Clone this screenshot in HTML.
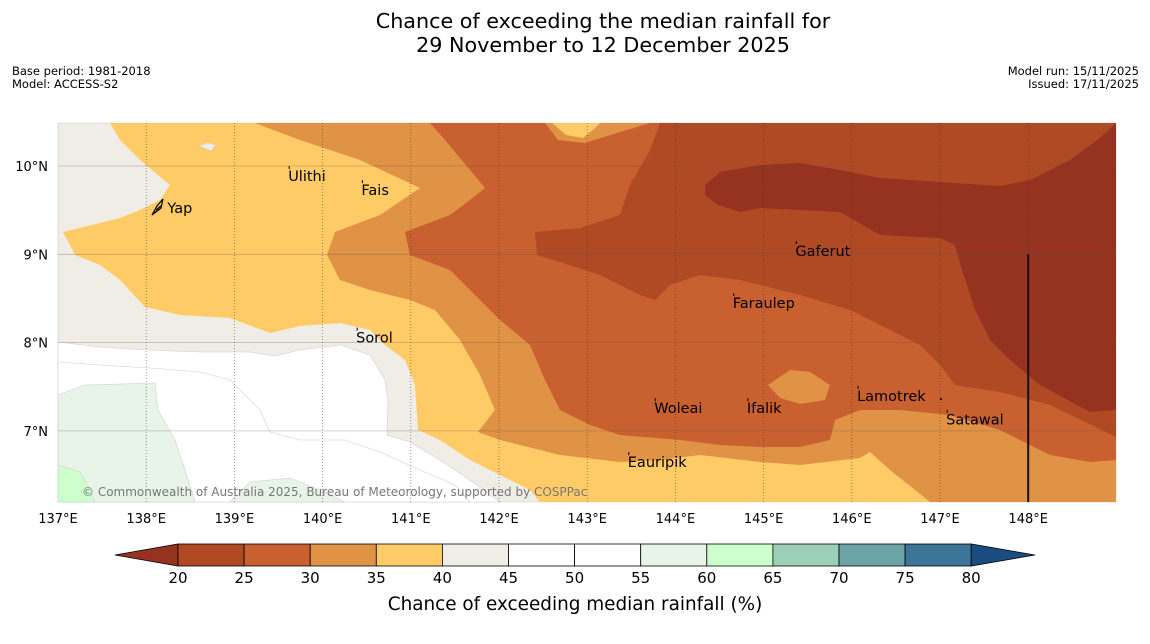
<!DOCTYPE html>
<html><head><meta charset="utf-8">
<style>
body{margin:0;background:#fff;font-family:"Liberation Sans","DejaVu Sans",sans-serif;}
#wrap{position:relative;width:1150px;height:644px;overflow:hidden;background:#fff}
.t{position:absolute;white-space:nowrap}
</style></head><body>
<div id="wrap">
<div class="t" style="left:0;width:1206px;top:9px;text-align:center;font-size:20.7px;line-height:24px;font-family:'DejaVu Sans',sans-serif">Chance of exceeding the median rainfall for<br>29 November to 12 December 2025</div>
<div class="t" style="left:12px;top:65px;font-size:11.5px;line-height:13px;font-family:'DejaVu Sans',sans-serif">Base period: 1981-2018<br>Model: ACCESS-S2</div>
<div class="t" style="right:11px;top:65px;font-size:11.5px;line-height:13px;text-align:right;font-family:'DejaVu Sans',sans-serif">Model run: 15/11/2025<br>Issued: 17/11/2025</div>
<svg id="map" width="1150" height="644" style="position:absolute;left:0;top:0" font-family="DejaVu Sans, sans-serif"></svg>
</div>
<script>
const NS="http://www.w3.org/2000/svg";
const svg=document.getElementById('map');
const lonTicks=[137,138,139,140,141,142,143,144,145,146,147,148];
const latTicks=[10,9,8,7];
const levels=[20,25,30,35,40,45,50,55,60,65,70,75,80];
const levelColors=['#963220','#b04a25','#c96030','#e09245','#ffcb66','#f0ece6','#ffffff','#ffffff','#e8f4e8','#ccffcc','#9bcfb8','#6ba3a6','#3d7598','#1a4c80'];
function X(lon){return 58+(lon-137)*88.2;}
function Y(lat){return 166+(10-lat)*88.3;}
function el(tag,attrs,parent){const e=document.createElementNS(NS,tag);for(const k in attrs)e.setAttribute(k,attrs[k]);(parent||svg).appendChild(e);return e;}
const regGray=[[58,123],[1116,123],[1116,502],[58,502]];
const regWhite=[[58,342],[100,347],[145,350],[200,352],[250,352],[275,356],[300,350],[340,345],[370,355],[385,380],[388,400],[387,435],[410,442],[440,460],[470,480],[500,502],[58,502]];
const regGreen=[[58,395],[85,385],[155,383],[158,410],[175,440],[185,470],[195,502],[58,502]];
const regGreen2=[[230,502],[250,482],[290,478],[320,490],[345,502]];
const regLime=[[58,465],[80,472],[90,490],[95,502],[58,502]];
const regYellow=[[110,123],[120,140],[140,160],[170,185],[160,200],[140,210],[120,218],[63,232],[75,255],[100,265],[120,280],[145,307],[180,315],[230,318],[270,333],[300,326],[340,323],[370,330],[385,345],[405,360],[415,385],[418,430],[440,440],[470,460],[490,470],[530,490],[540,502],[1116,502],[1116,123]];
const regGrayDot=[[199,146],[207,143],[216,145],[211,151]];
const regOrange=[[255,123],[300,140],[360,160],[420,188],[380,215],[335,232],[327,255],[340,280],[370,290],[410,300],[435,310],[460,340],[480,375],[495,410],[478,432],[500,440],[560,455],[620,462],[660,460],[700,455],[760,462],[800,465],[860,458],[870,452],[890,470],[915,490],[930,502],[1116,502],[1116,123]];
const regRed=[[430,123],[445,140],[485,188],[470,200],[450,215],[405,232],[410,255],[450,270],[470,290],[500,320],[530,345],[545,380],[560,410],[590,425],[620,435],[680,440],[720,445],[760,447],[800,447],[830,440],[835,420],[860,410],[900,410],[950,415],[1000,430],[1050,455],[1090,462],[1116,460],[1116,123]];
const regOrangeTop=[[545,123],[558,140],[585,143],[620,132],[650,123]];
const regYellowTop=[[552,123],[566,135],[583,138],[594,129],[600,123]];
const regOrangeIfalik=[[768,385],[790,370],[810,372],[830,385],[825,400],[800,404],[780,398]];
const regDark=[[660,123],[650,150],[630,185],[620,215],[580,228],[535,232],[537,255],[560,262],[600,275],[640,295],[655,300],[670,285],[700,275],[740,280],[800,295],[850,310],[890,330],[920,345],[940,365],[955,385],[1000,392],[1050,405],[1116,437],[1116,123]];
const regDarkest=[[705,185],[720,172],[760,165],[800,163],[840,170],[880,178],[940,182],[1000,186],[1030,180],[1070,160],[1100,138],[1116,123],[1116,410],[1090,412],[1040,385],[1010,360],[990,340],[975,310],[962,270],[955,245],[940,238],[880,235],[840,212],[800,210],[760,208],[740,212],[718,205],[705,195]];
const layers=[[regGray,5],[regWhite,6],[regGreen,8],[regGreen2,8],[regLime,9],[regYellow,4],[regGrayDot,5],[regOrange,3],[regRed,2],[regOrangeTop,3],[regYellowTop,4],[regOrangeIfalik,3],[regDark,1],[regDarkest,0]];
const g=el('g',{});


layers.forEach(([pts,ci])=>{
 const p=el('polygon',{points:pts.map(a=>a.join(',')).join(' '),fill:levelColors[ci],stroke:ci>=5?'#cfcfcf':'none','stroke-width':0.6},g);
 
 
});
el('polyline',{points:'58,362 100,365 150,368 200,372 230,380 260,410 270,432 300,440 345,440 380,452 420,470 455,485 470,502',fill:'none',stroke:'#d0d0d0','stroke-width':0.6});
lonTicks.forEach(l=>{if(l>137){const ln=el('line',{x1:X(l),x2:X(l),y1:123,y2:502,stroke:'#333','stroke-width':0.7,'stroke-dasharray':'1,2','stroke-opacity':0.7});}
 const t=el('text',{x:X(l),y:523,'font-size':13,'text-anchor':'middle'});t.textContent=l+'°E';});
latTicks.forEach(l=>{const ln=el('line',{x1:58,x2:1116,y1:Y(l),y2:Y(l),stroke:'#555','stroke-width':0.8,'stroke-opacity':0.35});
 const t=el('text',{x:48,y:Y(l)+5,'font-size':13,'text-anchor':'end'});t.textContent=l+'°N';});
const bl=el('line',{x1:X(148),x2:X(148),y1:Y(9),y2:502,stroke:'#111','stroke-width':2});

// places: label anchor (left, baseline) in lon/lat
const placeNames=['Yap','Ulithi','Fais','Gaferut','Faraulep','Sorol','Lamotrek','Woleai','Ifalik','Satawal','Eauripik'];
const placeLon=[138.24,139.61,140.44,145.36,144.65,140.38,146.06,143.76,144.81,147.07,143.46];
const placeLat=[9.47,9.83,9.67,8.98,8.39,8.0,7.34,7.20,7.20,7.07,6.59];
placeNames.forEach((n,i)=>{
 const x=X(placeLon[i]),y=Y(placeLat[i]);
 if(n!=='Yap') el('line',{x1:x+1,y1:y-15,x2:x+1,y2:y-12,stroke:'#000','stroke-width':1});
 const t=el('text',{x:x,y:y,'font-size':14.5,fill:'#000'});t.textContent=n;
 
});
el('circle',{cx:941,cy:399,r:1,fill:'#000'});
el('path',{d:'M152,215 L157,206 L163,199 L161,208 Z M156,210 L162,205 M154,213 L160,209',fill:'none',stroke:'#000','stroke-width':1.2});
const cp=el('text',{x:82,y:496,'font-size':12,fill:'#777'});cp.textContent='© Commonwealth of Australia 2025, Bureau of Meteorology, supported by COSPPac';

const cb=el('g',{});
const cx0=178,cw=66.1,cy=544,ch=22;
el('polygon',{points:`${cx0},${cy} ${cx0},${cy+ch} 115,${cy+ch/2}`,fill:levelColors[0],stroke:'#000','stroke-width':0.8},cb);
for(let i=0;i<levels.length-1;i++){const r=el('rect',{x:cx0+i*cw,y:cy,width:cw,height:ch,fill:levelColors[i+1],stroke:'#000','stroke-width':0.8},cb);}
const xe=cx0+(levels.length-1)*cw;
el('polygon',{points:`${xe},${cy} ${xe},${cy+ch} 1035,${cy+ch/2}`,fill:levelColors[13],stroke:'#000','stroke-width':0.8},cb);
levels.forEach((v,i)=>{const t=el('text',{x:cx0+i*cw,y:583,'font-size':15,'text-anchor':'middle'},cb);t.textContent=v;});
const ct=el('text',{x:575,y:610,'font-size':18.4,'text-anchor':'middle'});ct.textContent='Chance of exceeding median rainfall (%)';

</script>
</body></html>
